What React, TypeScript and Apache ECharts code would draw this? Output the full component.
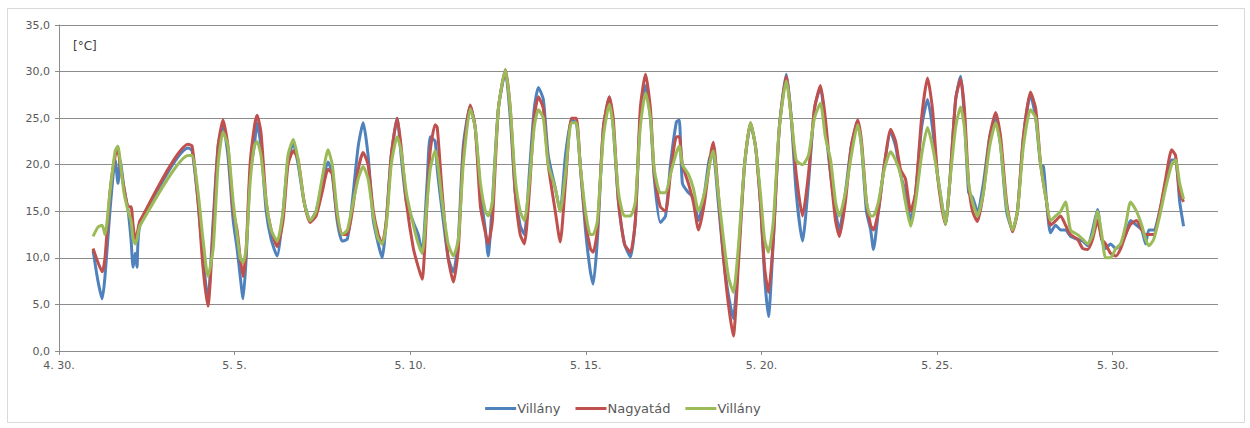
import React, { useEffect, useRef } from "react";
import * as echarts from "echarts";

// x: days since 4.30. 00:00
const days = [
  0.97, 1.11, 1.23, 1.31, 1.45, 1.6, 1.68, 1.74, 1.85, 1.97, 2.05, 2.11, 2.17, 2.22, 2.31,
  3.68, 3.79, 3.96, 4.1, 4.24, 4.39, 4.53, 4.67, 4.81, 4.96, 5.07, 5.16, 5.24, 5.33,
  5.44, 5.56, 5.64, 5.75, 5.9, 6.04, 6.21, 6.38, 6.52, 6.67, 6.81, 6.98, 7.15, 7.32, 7.49, 7.66, 7.78, 7.92, 8.06, 8.21, 8.35,
  8.52, 8.66, 8.8, 8.95, 9.09, 9.2, 9.32, 9.46, 9.63, 9.74, 9.89, 10.09, 10.23, 10.34, 10.48, 10.57, 10.71, 10.77, 10.91, 11.08, 11.23, 11.37,
  11.51, 11.71, 11.85, 12.0, 12.14, 12.22, 12.34, 12.51, 12.71, 12.85, 12.99, 13.13, 13.25, 13.39, 13.53, 13.65, 13.79, 13.93, 14.13, 14.27,
  14.42, 14.59, 14.73, 14.84, 14.99, 15.13, 15.21, 15.33, 15.5, 15.67, 15.78, 15.93, 16.1, 16.27, 16.41, 16.55, 16.7, 16.84, 16.95, 17.12, 17.27,
  17.41, 17.58, 17.66, 17.75, 17.92, 18.06, 18.21, 18.38, 18.55, 18.63, 18.77, 18.92, 19.06, 19.2, 19.34, 19.52, 19.69, 19.83, 19.97, 20.09, 20.2, 20.34,
  20.51, 20.71, 20.85, 20.99, 21.17, 21.34, 21.51, 21.68, 21.82, 21.97, 22.11, 22.22, 22.39, 22.56, 22.74, 22.85, 22.99, 23.11, 23.19, 23.33,
  23.5, 23.68, 23.82, 23.96, 24.1, 24.25, 24.39, 24.56, 24.73, 24.87, 25.01, 25.13, 25.24, 25.36, 25.53, 25.67, 25.78, 25.9, 26.01, 26.15, 26.32,
  26.5, 26.67, 26.81, 26.98, 27.15, 27.29, 27.46, 27.66, 27.81, 27.95, 28.03, 28.12, 28.23, 28.38, 28.52, 28.66, 28.8, 29.0, 29.15, 29.29,
  29.43, 29.57, 29.69, 29.8, 29.94, 30.09, 30.23, 30.37, 30.51, 30.68, 30.83, 30.94, 31.03, 31.17, 31.34, 31.51, 31.68, 31.79, 31.91, 32.02,
];

const villany1 = [
  10.8, 7.5, 5.6, 8, 15, 20.5, 18, 20.5, 17.5, 15, 12, 9, 10.5, 9, 13.5,
  21.8, 21.5, 16, 10, 5.5, 14, 22, 24.2, 21, 14, 11, 8, 5.6, 10,
  19, 22, 24.5, 22, 15, 12, 10.2, 15, 20.5, 22.3, 20, 16, 14, 15, 18, 20.3, 19, 14, 11.8, 12, 16,
  22, 24.5, 21, 14, 11.5, 10, 14, 21, 25, 21, 16, 13.8, 12.5, 10.5, 18, 23, 22.5, 19.5, 15, 10, 8.5, 12,
  22, 26.3, 24, 17, 13, 10.2, 16, 26, 30, 25, 17, 13.5, 12.5, 19, 26, 28.3, 27, 21, 17.5, 15,
  21, 24.8, 24.5, 20, 13, 8.5, 7.2, 12, 24, 27.3, 24, 16, 11.5, 10.1, 14, 25, 28.5, 25, 18.5, 13.8, 14.5,
  20, 24.6, 24.8, 18, 17, 16.5, 14, 17, 21, 21, 16, 10, 6, 3.5, 10, 20, 24.3, 22, 16, 8, 3.7, 12,
  24, 29.7, 25, 17, 11.8, 18, 26, 28.3, 24, 19, 15, 13, 17, 22, 24.5, 22, 15, 13, 10.9, 15,
  20, 23.5, 22, 19, 17, 14, 17, 24, 27, 24, 19, 16, 13.6, 18, 27, 29.5, 25, 17, 16.5, 15, 18,
  23, 25, 22, 15, 13, 15, 23, 27.5, 25, 20, 19.8, 16, 12.7, 13.5, 13, 13, 12.3, 12, 11.8, 11.3,
  13, 15.2, 12, 11, 11.5, 11, 11.5, 12.5, 14, 13.5, 13, 11.5, 13, 13, 15, 18, 20.5, 20.5, 16, 13.4,
];

const nagyatad = [
  11, 9.5, 8.5, 10, 17, 21, 21.5, 20, 17.5, 15.5, 15.5, 13.5, 12, 12.5, 14,
  22.2, 22, 16, 9, 4.8, 13, 22, 24.8, 22, 15, 13, 10, 8, 11,
  20, 24, 25.3, 23.5, 16, 13, 11.2, 14, 20, 21.5, 20.5, 16, 13.8, 14.5, 17, 19.5, 19, 14.5, 12.5, 12.5, 15,
  19.5, 21.3, 20, 15, 12.5, 11.5, 14, 21, 25, 22, 16, 11, 9, 7.7, 16, 21.5, 24.3, 24, 17, 10, 7.4, 11,
  21, 26.4, 24, 15.5, 12.7, 11.5, 14, 26, 30.2, 26, 17, 12.5, 11.5, 17, 25, 27.3, 26, 20, 15, 11.7,
  18, 25, 25, 20, 14, 11, 10.6, 13, 24, 27.3, 25, 16, 11.5, 10.6, 14, 26, 29.7, 26, 19, 15.5, 15,
  19, 23, 23, 20, 18, 16, 13, 16, 21, 22.4, 17, 10, 5, 1.6, 9, 20, 24.5, 22, 16, 9, 6.3, 12,
  24, 29.5, 25, 19, 14.5, 19, 26, 28.5, 25, 19, 14, 12.3, 16, 22, 24.8, 22.5, 16, 13.5, 13, 15,
  20, 23.8, 22.5, 19.5, 18.5, 15, 17, 25, 29.3, 26, 19, 15.5, 13.6, 18, 27, 29.2, 26, 18, 15, 13.9, 17,
  23, 25.6, 23, 16, 12.8, 15, 23, 27.8, 26, 20, 18, 16, 13.5, 14, 14.5, 13.5, 12.5, 12, 11, 10.9,
  12, 14, 12, 11.5, 10.5, 10.2, 11, 12.5, 13.6, 14, 13, 12.5, 12.5, 12.5, 15, 18.5, 21.6, 21, 17, 16,
];

const villany2 = [
  12.3, 13.3, 13.5, 12.5, 17, 21.5, 22, 20.5, 17, 15, 14, 12, 11.5, 12, 13.5,
  21, 21, 17, 12, 8, 11, 20, 23.5, 22, 16, 12.5, 10, 9.5, 11,
  18, 22, 22.5, 21, 16, 13, 11.8, 15, 21, 22.7, 20.5, 16, 14, 15, 18.5, 21.6, 20, 15, 12.5, 13, 15.5,
  18.5, 19.8, 18.5, 14.5, 12, 11.5, 13.5, 20, 23, 21.5, 17, 13.5, 11.5, 10.5, 16, 19.5, 21.5, 20.5, 16, 11.5, 10.2, 12,
  20, 26, 24, 18, 15, 14.5, 16, 26, 30.2, 26, 18.5, 15, 14, 18, 24, 25.9, 25, 20, 17.5, 15,
  19, 24.5, 24.5, 20, 15, 12.5, 12.5, 14, 23, 26.5, 24, 17, 14.5, 14.5, 16, 24, 27.7, 25, 19.5, 17, 17,
  19, 21.3, 22, 20, 19, 17.5, 15, 17, 20.5, 21.5, 17, 12, 8, 6.3, 11, 20, 24.5, 22, 17, 12, 10.6, 14,
  24, 29, 25, 20.5, 20, 21, 25, 26.6, 23, 20.5, 16, 14.5, 17, 21, 24.3, 22, 16, 14.5, 14.5, 16,
  19.5, 21.4, 20.5, 19, 16, 13.4, 16, 21, 24, 22, 19, 16, 13.6, 18, 24, 26.2, 24, 18, 16, 14.5, 17,
  22, 24.5, 22, 15.5, 13, 15, 22, 25.9, 25, 20, 18, 16, 14, 14.5, 15, 16, 13, 12.5, 12, 11.5,
  12.5, 15, 12.5, 10, 10, 11, 11.5, 13.5, 16, 15, 13.5, 12, 11.3, 12, 14.5, 17.5, 20, 20.5, 18, 16.3,
];

const seriesNames = ["Villány", "Nagyatád", "Villány "];
const seriesColors = ["#4F81BD", "#C0504D", "#9BBB59"];
const xTickValues = [0, 5, 10, 15, 20, 25, 30];
const xTickLabels = ["4. 30.", "5. 5.", "5. 10.", "5. 15.", "5. 20.", "5. 25.", "5. 30."];
const unitLabel = "[°C]";

const FONT = "DejaVu Sans";

export default function App() {
  const ref = useRef<HTMLDivElement>(null);

  useEffect(() => {
    if (!ref.current) return;
    const chart = echarts.init(ref.current, undefined, { renderer: "svg" });
    const allValues = [villany1, nagyatad, villany2];
    const series = allValues.map((vals, i) => ({
      name: seriesNames[i],
      type: "line",
      data: days.map((d, k) => [d, vals[k]]),
      showSymbol: false,
      symbol: "none",
      smooth: 0.2,
      lineStyle: { width: 3, color: seriesColors[i] },
      itemStyle: { color: seriesColors[i] },
      z: 2 + i,
    }));
    chart.setOption({
      animation: false,
      backgroundColor: "#ffffff",
      grid: { left: 59, right: 32, top: 25, bottom: 77, containLabel: false },
      xAxis: {
        type: "value",
        min: 0,
        max: 33,
        interval: 5,
        axisLine: { show: true, lineStyle: { color: "#8C8C8C", width: 1 } },
        axisTick: {
          show: true,
          length: 4,
          customValues: xTickValues,
          lineStyle: { color: "#8C8C8C" },
        },
        axisLabel: {
          customValues: xTickValues,
          formatter: (v: number) => {
            const idx = xTickValues.indexOf(Math.round(v));
            return idx >= 0 ? xTickLabels[idx] : "";
          },
          color: "#595959",
          fontFamily: FONT,
          fontSize: 11,
          margin: 9,
        },
        splitLine: { show: false },
      },
      yAxis: {
        type: "value",
        min: 0,
        max: 35,
        interval: 5,
        axisLine: { show: true, lineStyle: { color: "#8C8C8C", width: 1 } },
        axisTick: { show: true, length: 4, lineStyle: { color: "#8C8C8C" } },
        axisLabel: {
          formatter: (v: number) => v.toFixed(1).replace(".", ","),
          color: "#595959",
          fontFamily: FONT,
          fontSize: 11,
          margin: 9,
        },
        splitLine: { show: true, lineStyle: { color: "#8C8C8C", width: 1 } },
      },
      legend: {
        data: seriesNames,
        top: 397,
        left: "center",
        icon: "rect",
        itemWidth: 31,
        itemHeight: 3,
        itemGap: 15,
        textStyle: { color: "#595959", fontFamily: FONT, fontSize: 13, padding: [0, 0, 0, -4] },
      },
      graphic: [
        {
          type: "rect",
          shape: { x: 7.5, y: 8.5, width: 1237, height: 414 },
          style: { fill: "none", stroke: "#D9D9D9", lineWidth: 1 },
          silent: true,
        },
        {
          type: "text",
          left: 73,
          top: 40,
          style: { text: unitLabel, fill: "#404040", font: `12px "${FONT}"` },
        },
      ],
      series,
    });
    return () => chart.dispose();
  }, []);

  return (
    <div
      ref={ref}
      style={{ position: "fixed", left: 0, top: 0, width: 1250, height: 428, background: "#fff" }}
    />
  );
}
